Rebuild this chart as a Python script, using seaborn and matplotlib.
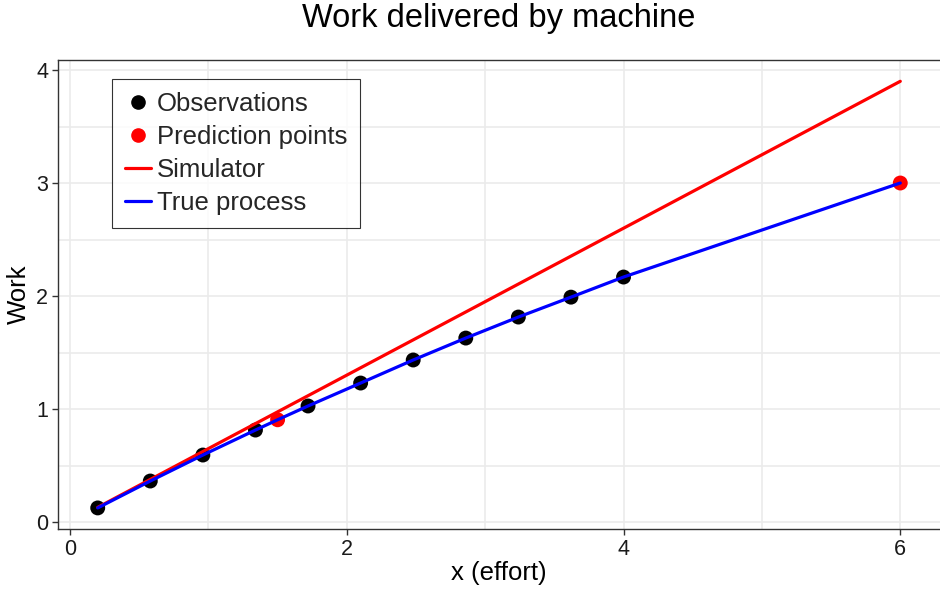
import matplotlib
matplotlib.use("Agg")
import matplotlib.pyplot as plt
from matplotlib.lines import Line2D
from matplotlib.ticker import MultipleLocator
import seaborn as sns
import pandas as pd

obs_x = [0.2, 0.58, 0.96, 1.34, 1.72, 2.1, 2.48, 2.86, 3.24, 3.62, 4.0]
obs_y = [0.125, 0.363, 0.593, 0.814, 1.027, 1.23, 1.434, 1.628, 1.814, 1.99, 2.168]
pred_x = [1.5, 6.0]
pred_y = [0.905, 3.0]
sim_x = [0.2, 6.0]
sim_y = [0.13, 3.9]
true_x = [0.2, 0.58, 0.96, 1.34, 1.5, 1.72, 2.1, 2.48, 2.86, 3.24, 3.62, 4.0, 6.0]
true_y = [0.125, 0.363, 0.593, 0.814, 0.905, 1.027, 1.23, 1.434, 1.628, 1.814, 1.99, 2.168, 3.0]

sns.set_theme(style="white")
plt.rcParams['font.family'] = ['Liberation Sans', 'DejaVu Sans']

fig = plt.figure(figsize=(9.4, 5.92), dpi=100)
ax = fig.add_axes([58/940, 63/592, 1 - 58/940, (529-60)/592])

grid_c = "#EBEBEB"
for v in [0, 1, 2, 3, 4, 5, 6]:
    ax.axvline(v, color=grid_c, lw=1.2, zorder=0)
for v in [0, 0.5, 1, 1.5, 2, 2.5, 3, 3.5, 4]:
    ax.axhline(v, color=grid_c, lw=1.2, zorder=0)

obs = pd.DataFrame({"x": obs_x, "y": obs_y})
pred = pd.DataFrame({"x": pred_x, "y": pred_y})
sim = pd.DataFrame({"x": sim_x, "y": sim_y})
tru = pd.DataFrame({"x": true_x, "y": true_y})

sns.scatterplot(data=obs, x="x", y="y", ax=ax, color="black", s=115, edgecolor="none", zorder=3)
sns.scatterplot(data=pred, x="x", y="y", ax=ax, color="red", s=115, edgecolor="none", zorder=3)
sns.lineplot(data=sim, x="x", y="y", ax=ax, color="red", lw=2.3, zorder=4)
sns.lineplot(data=tru, x="x", y="y", ax=ax, color="blue", lw=2.3, zorder=5)

ax.set_xlim(-0.087, 6.287)
ax.set_ylim(-0.0615, 4.0885)
ax.xaxis.set_major_locator(MultipleLocator(2))
ax.yaxis.set_major_locator(MultipleLocator(1))
ax.tick_params(axis="both", which="major", direction="out", length=4, width=1,
               color="#333333", labelsize=15.5, labelcolor="#1a1a1a", pad=3, bottom=True, left=True)
for name, sp in ax.spines.items():
    sp.set_color("#333333")
    sp.set_linewidth(1.0)
ax.spines["right"].set_visible(False)

ax.set_xlabel("x (effort)", fontsize=18.5, color="black", labelpad=1)
ax.set_ylabel("Work", fontsize=18.5, color="black", labelpad=4)
ax.set_title("Work delivered by machine", fontsize=23.5, color="black", pad=24)

handles = [
    Line2D([], [], marker="o", color="black", linestyle="none", markersize=9.5),
    Line2D([], [], marker="o", color="red", linestyle="none", markersize=9.5),
    Line2D([], [], color="red", lw=2.3),
    Line2D([], [], color="blue", lw=2.3),
]
labels = ["Observations", "Prediction points", "Simulator", "True process"]
leg = ax.legend(handles, labels, loc="upper left", bbox_to_anchor=(54/882, 1 - 19/469),
                fontsize=18.5, frameon=True, fancybox=False, handlelength=1.0,
                handletextpad=0.25, labelspacing=0.35, borderpad=0.5, borderaxespad=0)
leg.get_frame().set_edgecolor("black")
leg.get_frame().set_linewidth(0.8)
leg.set_zorder(10)

fig.savefig("out.png", dpi=100)
